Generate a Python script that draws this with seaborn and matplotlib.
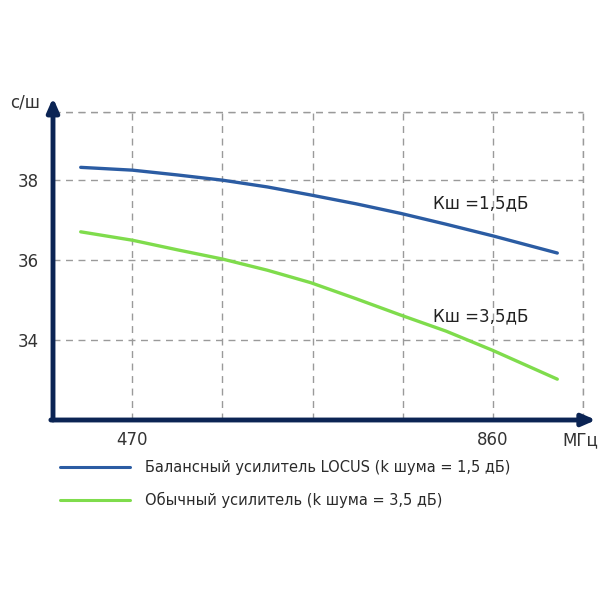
import matplotlib
matplotlib.use("Agg")
import matplotlib.pyplot as plt
from matplotlib.lines import Line2D
import seaborn as sns
import pandas as pd

# data
freq_mhz = [414, 470, 518.75, 567.5, 616.25, 663, 712, 760.5, 809.5, 860, 930]
snr_locus = [38.31, 38.24, 38.12, 37.99, 37.82, 37.62, 37.40, 37.16, 36.89, 36.60, 36.17]
snr_usual = [36.70, 36.49, 36.25, 36.02, 35.74, 35.43, 35.03, 34.62, 34.22, 33.74, 33.02]

grid_x = [470, 567.5, 665, 762.5, 860, 957.5]
x_labels = ["470", "", "", "", "860", ""]
grid_y = [34, 36, 38, 39.7]
y_labels = ["34", "36", "38", ""]

label_locus = "Балансный усилитель LOCUS (k шума = 1,5 дБ)"
label_usual = "Обычный усилитель (k шума = 3,5 дБ)"

df = pd.DataFrame({
    "freq": freq_mhz * 2,
    "snr": snr_locus + snr_usual,
    "amp": [label_locus] * len(freq_mhz) + [label_usual] * len(freq_mhz),
})

sns.set_style("white")
plt.rcParams["font.family"] = ["DejaVu Sans"]

axis_col = "#0b2454"
blue = "#2b5ca3"
green = "#7fdc4c"
grid_col = "#9a9a9a"

fig = plt.figure(figsize=(6, 6), dpi=100)
ax = fig.add_axes([53 / 600, 1 - 420 / 600, 529.7 / 600, 308.3 / 600])

sns.lineplot(data=df, x="freq", y="snr", hue="amp",
             palette={label_locus: blue, label_usual: green},
             linewidth=2.4, ax=ax, legend=False)

ax.set_xlim(384, 957.5)
ax.set_ylim(32, 39.7)
ax.set_xticks(grid_x)
ax.set_xticklabels(x_labels, fontsize=12, color="#333333")
ax.set_yticks(grid_y)
ax.set_yticklabels(y_labels, fontsize=12, color="#333333")
ax.tick_params(axis="x", length=0, pad=8)
ax.tick_params(axis="y", length=0, pad=10)
ax.set_xlabel("")
ax.set_ylabel("")
ax.grid(True, color=grid_col, linestyle=(0, (5, 4)), linewidth=1.0)
# outer dashed border (right / top) not clipped
ax.axvline(957.5, color=grid_col, linestyle=(0, (5, 4)), linewidth=1.0, clip_on=False)
ax.axhline(39.7, color=grid_col, linestyle=(0, (5, 4)), linewidth=1.0, clip_on=False)
for s in ax.spines.values():
    s.set_visible(False)

# axes drawn as arrows
ax.annotate("", xy=(0, 1.045), xytext=(0, 0), xycoords="axes fraction",
            arrowprops=dict(arrowstyle="-|>,head_width=0.35,head_length=0.8",
                            color=axis_col, lw=3.5, shrinkA=0, shrinkB=0))
ax.annotate("", xy=(1.025, 0), xytext=(-0.004, 0), xycoords="axes fraction",
            arrowprops=dict(arrowstyle="-|>,head_width=0.35,head_length=0.8",
                            color=axis_col, lw=3.5, shrinkA=0, shrinkB=0))

ax.text(-0.052, 1.03, "с/ш", transform=ax.transAxes, fontsize=12,
        ha="center", va="center", color="#333333")
ax.text(0.995, -0.066, "МГц", transform=ax.transAxes, fontsize=12,
        ha="center", va="center", color="#333333")

ax.text(795, 37.4, "Кш =1,5дБ", fontsize=12, va="center", color="#222222")
ax.text(795, 34.6, "Кш =3,5дБ", fontsize=12, va="center", color="#222222")

# legend below the chart
handles = [Line2D([], [], color=blue, lw=2.2), Line2D([], [], color=green, lw=2.2)]
fig.legend(handles, [label_locus, label_usual], loc="upper left",
           bbox_to_anchor=(0.078, 1 - 447 / 600), frameon=False,
           fontsize=10.5, handlelength=4.8, handletextpad=1.0,
           labelspacing=1.15, labelcolor="#2a2a2a")

fig.savefig("out.png", dpi=100)
